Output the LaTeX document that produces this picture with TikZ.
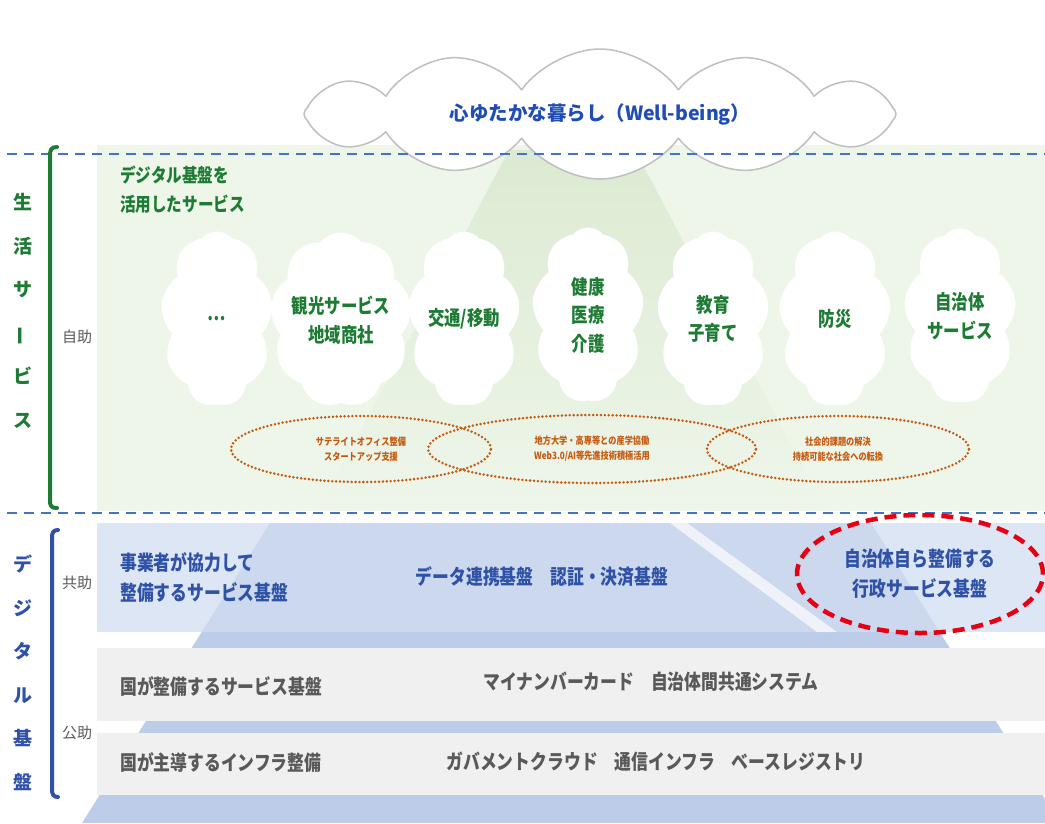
\documentclass[tikz,border=0pt]{standalone}
\usepackage{fontspec}
\newfontfamily\jp[FakeStretch=0.82]{Noto Sans CJK JP}
\newfontfamily\jpw{Noto Sans CJK JP}
\usepackage{tikz}
\usetikzlibrary{shapes.geometric,shapes.symbols}

\definecolor{verde}{HTML}{1E7B34}
\definecolor{verdefondo}{HTML}{EEF6EA}
\definecolor{verdehaz}{HTML}{DCEAD2}
\definecolor{azulraya}{HTML}{4472C4}
\definecolor{azultexto}{HTML}{2F52A6}
\definecolor{azulnube}{HTML}{1F4DB5}
\definecolor{azulpir}{HTML}{BCCCE9}
\definecolor{azulfila}{HTML}{D2DDF0}
\definecolor{gris}{HTML}{F0F0F0}
\definecolor{gristexto}{HTML}{595959}
\definecolor{grisnube}{HTML}{BFBFBF}
\definecolor{naranja}{HTML}{C55A11}
\definecolor{rojo}{HTML}{E60012}

\begin{document}
\begin{tikzpicture}[x=1pt, y=-1pt, inner sep=0pt, line join=round]
				\tikzset{nube/.style={cloud, cloud puffs=9, cloud puff arc=100, cloud ignores aspect, fill=white, minimum width=112pt, minimum height=175pt, align=center, text=verde, font=\jp\bfseries\fontsize{20}{28.5}\selectfont}}
				\tikzset{ovalo/.style={ellipse, draw=naranja, line width=2.8pt, dash pattern=on 0pt off 3.9pt, line cap=round, align=center, text=naranja, font=\jp\bfseries\fontsize{10}{15}\selectfont}}
				\tikzset{fila/.style={align=left, font=\jp\bfseries\fontsize{20.5}{30}\selectfont}}
				\tikzset{raya/.style={azulraya, line width=2.5pt, dash pattern=on 10pt off 7pt}}
				\tikzset{ayuda/.style={text=gristexto, font=\jpw\fontsize{15}{18}\selectfont}}
				\tikzset{lado/.style={align=center, font=\jpw\bfseries\fontsize{19}{43.5}\selectfont}}

				\useasboundingbox (0,0) rectangle (1045,823);

				%FONDOS
				\fill[verdefondo] (97,145) rectangle (1045,511);
				\shade[top color=verdehaz, bottom color=verdefondo] (509,150) -- (635,150) -- (826,511) -- (318,511) -- cycle;
				\fill[azulpir] (270,523) -- (871,523) -- (1060,823) -- (82,823) -- cycle;
				\fill[azulfila, opacity=0.75] (97,523) rectangle (1045,632);
				\fill[white, opacity=0.7] (670,523) -- (687,523) -- (837,632) -- (817,632) -- cycle;
				\fill[gris] (97,648) rectangle (1045,721);
				\fill[gris] (97,733) rectangle (1045,795);

				%NUBE SUPERIOR
				\node[cloud, cloud puffs=12, cloud puff arc=110, cloud ignores aspect, draw=grisnube, line width=1.5pt, fill=white, minimum width=592pt, minimum height=130pt, text=azulnube, font=\jpw\bfseries\fontsize{19.5}{24}\selectfont] (top) at (600,114) {心ゆたかな暮らし（Well-being）};

				\draw[raya] (7,154) -- (1045,154);
				\draw[raya] (7,513) -- (1045,513);

				%CORCHETES
				\draw[verde, line width=4pt, line cap=round] (57,147) .. controls (51,147) and (50,150) .. (50,156) -- (50,500) .. controls (50,506) and (51,508) .. (57,508);
				\draw[azultexto, line width=4pt, line cap=round] (58,530) .. controls (53,530) and (52,533) .. (52,538) -- (52,789) .. controls (52,794) and (53,797) .. (58,797);

				\node[lado, text=verde]     (v0) at (23,311) {生\\活\\サ\\\rotatebox[origin=c]{90}{ー}\\ビ\\ス};
				\node[lado, text=azultexto] (v1) at (23,673) {デ\\ジ\\タ\\ル\\基\\盤};

				\node[ayuda] (k0) at (77,337) {自助};
				\node[ayuda] (k1) at (77,583) {共助};
				\node[ayuda] (k2) at (77,733) {公助};

				\node[fila, anchor=west, text=verde, font=\jp\bfseries\fontsize{19}{29}\selectfont] (h0) at (120,190) {デジタル基盤を\\活用したサービス};

				%NUBES
				\node[nube] (c0) at (217,319) {…};
				\node[nube] (c1) at (341,320) {観光サービス\\地域商社};
				\node[nube] (c2) at (464,319) {交通/移動};
				\node[nube] (c3) at (588,315) {健康\\医療\\介護};
				\node[nube] (c4) at (713,319) {教育\\子育て};
				\node[nube] (c5) at (835,319) {防災};
				\node[nube] (c6) at (960,316) {自治体\\サービス};

				%ELIPSES
				\node[ovalo, minimum width=260pt, minimum height=66pt] (e0) at (361,449) {サテライトオフィス整備\\スタートアップ支援};
				\node[ovalo, minimum width=328pt, minimum height=68pt] (e1) at (592,449) {地方大学・高専等との産学協働\\Web3.0/AI等先進技術積極活用};
				\node[ovalo, minimum width=262pt, minimum height=66pt] (e2) at (838,449) {社会的課題の解決\\持続可能な社会への転換};

				%FILAS
				\node[fila, anchor=west, text=azultexto] (t1) at (120,578) {事業者が協力して\\整備するサービス基盤};
				\node[fila, text=azultexto] (t2) at (542,577) {データ連携基盤　認証・決済基盤};
				\node[fila, align=center, text=azultexto, ellipse, draw=rojo, line width=4.5pt, dash pattern=on 12pt off 7pt, minimum width=246pt, minimum height=118pt] (t3) at (920,574) {自治体自ら整備する\\行政サービス基盤};
				\node[fila, anchor=west, text=gristexto] (t4) at (120,687) {国が整備するサービス基盤};
				\node[fila, text=gristexto] (t5) at (651,682) {マイナンバーカード　自治体間共通システム};
				\node[fila, anchor=west, text=gristexto] (t6) at (120,763) {国が主導するインフラ整備};
				\node[fila, text=gristexto] (t7) at (656,762) {ガバメントクラウド　通信インフラ　ベースレジストリ};
			\end{tikzpicture}
\end{document}
